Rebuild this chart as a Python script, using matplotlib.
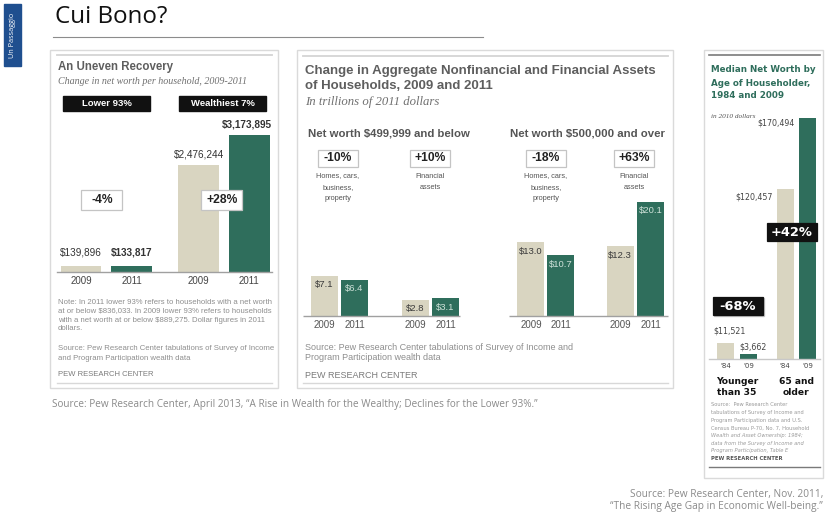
import matplotlib
matplotlib.use("Agg")
import matplotlib.pyplot as plt
from matplotlib.patches import Rectangle

W, H = 829, 519

# --------- DATI ---------
uneven_groups = ["Lower 93%", "Wealthiest 7%"]
uneven_years = ["2009", "2011", "2009", "2011"]
uneven_values = [139896, 133817, 2476244, 3173895]
uneven_labels = ["$139,896", "$133,817", "$2,476,244", "$3,173,895"]
uneven_changes = ["-4%", "+28%"]

assets_groups = ["Net worth $499,999 and below", "Net worth $500,000 and over"]
assets_kinds = ["Homes, cars,\nbusiness,\nproperty", "Financial\nassets"] * 2
assets_years = ["2009", "2011"] * 4
assets_values = [7.1, 6.4, 2.8, 3.1, 13.0, 10.7, 12.3, 20.1]
assets_changes = ["-10%", "+10%", "-18%", "+63%"]

age_groups = ["Younger\nthan 35", "65 and\nolder"]
age_years = ["'84", "'09", "'84", "'09"]
age_values = [11521, 3662, 120457, 170494]
age_labels = ["$11,521", "$3,662", "$120,457", "$170,494"]
age_changes = ["-68%", "+42%"]

BEIGE = "#d9d5c1"
GREEN = "#2f6e5c"
GRAY_T = "#5e5e5e"
NOTE = "#8e8e8e"
SANS = "Liberation Sans"

fig = plt.figure(figsize=(W / 100, H / 100), dpi=100)


def px_axes(x0, y0, x1, y1):
    ax = fig.add_axes([x0 / W, 1 - y1 / H, (x1 - x0) / W, (y1 - y0) / H])
    ax.patch.set_visible(False)
    ax.axis("off")
    return ax


# sfondo / testi (sopra le barre)
bg = fig.add_axes([0, 0, 1, 1])
bg.set_xlim(0, W)
bg.set_ylim(H, 0)
bg.axis("off")
bg.set_zorder(10)
bg.patch.set_visible(False)


def righe(x, y0, dy, testo, **kw):
    for i, r in enumerate(testo.split("\n")):
        bg.text(x, y0 + i * dy, r, va="center", **kw)


def box(cx, cy, w, h, testo, fc="white", ec="#c4c4c4", tc="#222", fs=8.7, family=SANS):
    bg.add_patch(Rectangle((cx - w / 2, cy - h / 2), w, h, fc=fc, ec=ec, lw=0.9))
    bg.text(cx, cy, testo, ha="center", va="center", fontsize=fs, weight="bold",
            color=tc, family=family)


# --------- INTESTAZIONE ---------
bg.add_patch(Rectangle((4, 4), 17, 62, color="#1f4f8f"))
bg.text(12.5, 35, "Un Passaggio", rotation=90, color="white", fontsize=5.2,
        ha="center", va="center", family="Open Sans")
bg.text(55, 17, "Cui Bono?", fontsize=17.4, family="Open Sans", va="center", color="#111")
bg.plot([53, 483], [37, 37], color="#8c8c8c", lw=0.8)

# cornici
bg.add_patch(Rectangle((50, 50), 228, 338, fill=False, ec="#dadada", lw=1))
bg.add_patch(Rectangle((297, 50), 376, 338, fill=False, ec="#dadada", lw=1))
bg.add_patch(Rectangle((704, 50), 119, 428, fill=False, ec="#dadada", lw=1))

# --------- GRAFICO A: An Uneven Recovery ---------
bg.plot([57, 272], [55, 55], color="#d4d4d4", lw=1.3)
bg.text(58, 67, "An Uneven Recovery", fontsize=8.3, weight="bold", color=GRAY_T,
        va="center", family=SANS)
bg.text(58, 81, "Change in net worth per household, 2009-2011", fontsize=7.2,
        style="italic", family="Liberation Serif", color="#707070", va="center")
for cx, g in zip([106.5, 223], uneven_groups):
    bg.add_patch(Rectangle((cx - 43.5, 96), 87, 15, color="#111"))
    bg.text(cx, 103.5, g, color="white", fontsize=6.8, weight="bold",
            ha="center", va="center", family=SANS)

ax1 = px_axes(57, 112, 272, 272)
pos1 = [0, 1, 2.33, 3.33]
ax1.set_xlim(-0.475, 3.78)
ax1.set_ylim(0, 3.7e6)
ax1.bar(pos1, uneven_values, width=0.81, color=[BEIGE, GREEN, BEIGE, GREEN])
ax1.axhline(0, color="#a0a0a0", lw=1, clip_on=False)
for i, (p, v) in enumerate(zip(pos1, uneven_values)):
    ax1.annotate(uneven_years[i], (p, 0), xytext=(0, -3), textcoords="offset points",
                 ha="center", va="top", fontsize=7, color="#444", family=SANS)
    ax1.annotate(uneven_labels[i], (p, v), xytext=(-2 if i == 3 else 0, 6 if i < 2 else 4),
                 textcoords="offset points", ha="center", va="bottom",
                 fontsize=7.2, color="#333", family=SANS,
                 weight="bold" if i % 2 else "normal")
box(102, 200, 41, 20, uneven_changes[0])
box(222, 200, 41, 20, uneven_changes[1])

righe(58, 302, 9, "Note: In 2011 lower 93% refers to households with a net worth\n"
      "at or below $836,033. In 2009 lower 93% refers to households\n"
      "with a net worth at or below $889,275. Dollar figures in 2011\n"
      "dollars.", fontsize=5.55, color=NOTE, family=SANS)
righe(58, 349, 9, "Source: Pew Research Center tabulations of Survey of Income\n"
      "and Program Participation wealth data", fontsize=5.55, color=NOTE, family=SANS)
bg.text(58, 374, "PEW RESEARCH CENTER", fontsize=5.5, color="#7a7a7a", va="center", family=SANS)
bg.plot([57, 272], [383, 383], color="#d8d8d8", lw=1)

# --------- GRAFICO B: Aggregate assets ---------
bg.plot([303, 668], [56, 56], color="#d4d4d4", lw=1.3)
righe(305, 71, 15, "Change in Aggregate Nonfinancial and Financial Assets\n"
      "of Households, 2009 and 2011", fontsize=9.5, weight="bold", color=GRAY_T, family=SANS)
bg.text(305, 102, "In trillions of 2011 dollars", fontsize=9.2, style="italic",
        family="Liberation Serif", color="#707070", va="center")
bg.text(308, 133, assets_groups[0], fontsize=8.2, weight="bold", color="#555", va="center", family=SANS)
bg.text(510, 133, assets_groups[1], fontsize=8.2, weight="bold", color="#555", va="center", family=SANS)
for cx, ch, k in zip([338, 430, 546, 634], assets_changes, assets_kinds):
    box(cx, 158, 40, 17, ch)
    righe(cx, 176, 11.5, k, fontsize=5.3, color="#555", ha="center", family=SANS)

ax2 = px_axes(303, 196, 668, 316)
pos2 = [0, 1, 3.03, 4.03, 6.88, 7.88, 9.85, 10.87]
ax2.set_xlim(-0.72, 11.45)
ax2.set_ylim(0, 21.2)
ax2.bar(pos2, assets_values, width=0.9, color=[BEIGE, GREEN] * 4)
ax2.hlines(0, -0.72, 4.5, color="#a0a0a0", lw=1, clip_on=False)
ax2.hlines(0, 6.15, 11.45, color="#a0a0a0", lw=1, clip_on=False)
for i, (p, v) in enumerate(zip(pos2, assets_values)):
    ax2.annotate(f"${v:.1f}", (p, v), xytext=(0, -3), textcoords="offset points",
                 ha="center", va="top", fontsize=6.8, family=SANS,
                 color="#cfe2d9" if i % 2 else "#3a3a3a")
    ax2.annotate(assets_years[i], (p, 0), xytext=(0, -3), textcoords="offset points",
                 ha="center", va="top", fontsize=7, color="#555", family=SANS)

righe(305, 348, 10, "Source: Pew Research Center tabulations of Survey of Income and\n"
      "Program Participation wealth data", fontsize=6.5, color=NOTE, family=SANS)
bg.text(305, 375, "PEW RESEARCH CENTER", fontsize=6.5, color="#7a7a7a", va="center", family=SANS)
bg.plot([303, 668], [383, 383], color="#d8d8d8", lw=1)

# --------- GRAFICO C: Median net worth by age ---------
bg.plot([709, 820], [55, 55], color="#7a7a7a", lw=1.2)
righe(711, 70, 13, "Median Net Worth by\nAge of Householder,\n1984 and 2009",
      fontsize=6.3, weight="bold", color=GREEN, family="DejaVu Sans")
bg.text(711, 116, "in 2010 dollars", fontsize=5.2, style="italic",
        family="Liberation Serif", color="#555", va="center")

ax3 = px_axes(709, 110, 820, 359)
pos3 = [0, 1, 2.59, 3.57]
wid3 = 0.74
ax3.set_xlim(-0.72, 4.11)
ax3.set_ylim(0, 176154)
ax3.bar(pos3, age_values, width=wid3, color=[BEIGE, GREEN, BEIGE, GREEN])
ax3.axhline(0, color="#c8c8c8", lw=1, clip_on=False)
for i, (p, v) in enumerate(zip(pos3, age_values)):
    ax3.annotate(age_years[i], (p, 0), xytext=(0, -3), textcoords="offset points",
                 ha="center", va="top", fontsize=5, color="#444", family="DejaVu Sans")
    if i < 2:
        ax3.annotate(age_labels[i], (p, v), xytext=(3, 5 if i == 0 else 2),
                     textcoords="offset points", ha="center", va="bottom",
                     fontsize=5.7, color="#444", family="DejaVu Sans")
    else:
        ax3.annotate(age_labels[i], (p - wid3 / 2, v), xytext=(-3, 0 if i == 3 else -3),
                     textcoords="offset points", ha="right", va="top",
                     fontsize=5.7, color="#444", family="DejaVu Sans")
for g, (a, b) in zip(age_groups, [(0, 1), (2, 3)]):
    ax3.annotate(g, ((pos3[a] + pos3[b]) / 2, 0), xytext=(0, -13), textcoords="offset points",
                 ha="center", va="top", fontsize=6.6, weight="bold", color="#111",
                 family="DejaVu Sans", linespacing=1.25)

bg.add_patch(Rectangle((714, 298), 50, 18, color="#888", alpha=0.4))
box(738, 306, 50, 18, age_changes[0], fc="#111", ec="#111", tc="white", fs=9.4,
    family="DejaVu Sans")
box(792, 232, 50, 18, age_changes[1], fc="#111", ec="#111", tc="white", fs=9.4,
    family="DejaVu Sans")

src3 = ["Source:  Pew Research Center", "tabulations of Survey of Income and",
        "Program Participation data and U.S.", "Census Bureau P-70, No. 7, Household",
        "Wealth and Asset Ownership: 1984;", "data from the Survey of Income and",
        "Program Participation, Table E"]
for i, r in enumerate(src3):
    bg.text(711, 405 + i * 7.6, r, fontsize=3.7, color="#9a9a9a", va="center",
            family="DejaVu Sans", style="italic" if i in (4, 5, 6) else "normal")
bg.text(711, 458, "PEW RESEARCH CENTER", fontsize=3.8, weight="bold", color="#555",
        va="center", family="DejaVu Sans")
bg.plot([709, 820], [467, 467], color="#7a7a7a", lw=1)

# --------- FONTI ---------
bg.text(52, 404, "Source: Pew Research Center, April 2013, \u201cA Rise in Wealth for the Wealthy; "
        "Declines for the Lower 93%.\u201d", fontsize=7.2, color="#8a8a8a",
        family="Open Sans", va="center")
bg.text(823, 494, "Source: Pew Research Center, Nov. 2011,", fontsize=7.3, color="#8a8a8a",
        family="Open Sans", va="center", ha="right")
bg.text(823, 507, "\u201cThe Rising Age Gap in Economic Well-being.\u201d", fontsize=7.3,
        color="#8a8a8a", family="Open Sans", va="center", ha="right")

fig.savefig("out.png", dpi=100)
